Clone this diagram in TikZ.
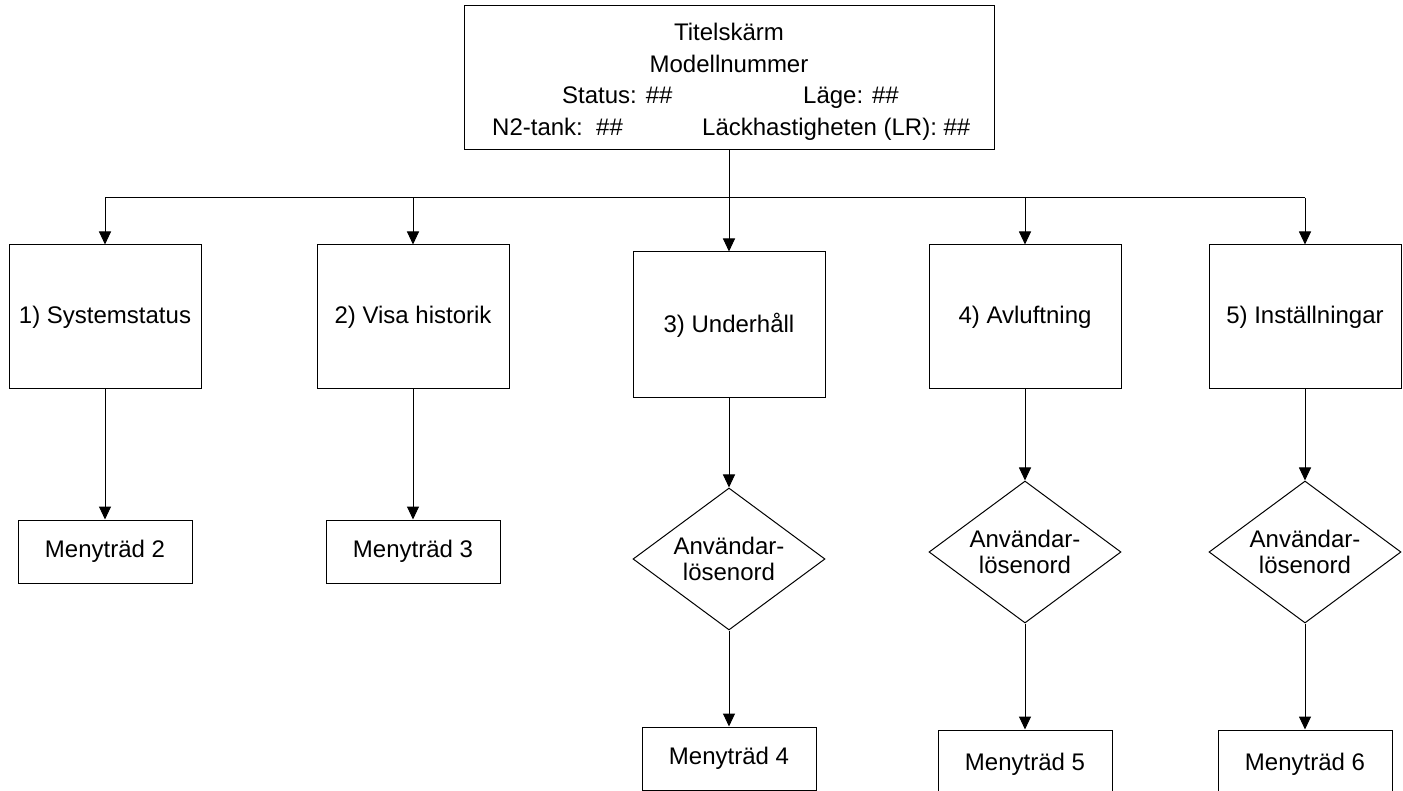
\documentclass[tikz,border=0pt]{standalone}
\usepackage{fontspec}
\setmainfont{Liberation Sans}
\usepackage{tikz}
\usetikzlibrary{shapes.geometric, arrows.meta, positioning}
\tikzstyle{menu} = [rectangle, minimum width=192pt, minimum height=144pt, text centered, draw=black, line width=1pt, inner sep=0pt]
\tikzstyle{tree} = [rectangle, minimum width=174pt, minimum height=63pt, text centered, draw=black, line width=1pt]
\tikzstyle{password} = [diamond, aspect=1.35, minimum width=192pt, minimum height=142pt, inner sep=0pt, align=center, draw=black, line width=1pt]
\tikzstyle{txt} = [inner sep=0pt]
\tikzstyle{arrow} = [line width=1pt, -{Triangle[length=13pt,width=12pt]}]

\begin{document}
\begin{tikzpicture}[x=1pt, y=-1pt, font=\fontsize{24}{26}\selectfont]
  \clip (0,0) rectangle (1403,791);
  \node (title) [rectangle, draw=black, line width=1pt, minimum width=530pt, minimum height=144pt] at (729,78) {};
  \node (tname) [txt, anchor=base] at (729,41) {Titelskärm};
  \node (tmodel) [txt, anchor=base] at (729,73) {Modellnummer};
  \node (tstatus) [txt, anchor=base west] at (562,104) {Status: \#\#};
  \node (tmode) [txt, anchor=base west] at (803,104) {Läge: \#\#};
  \node (ttank) [txt, anchor=base west] at (492,136) {N2-tank:\ \ \#\#};
  \node (trate) [txt, anchor=base west] at (702,136) {Läckhastigheten (LR): \#\#};

  \node (sys) [menu] at (105,317) {1) Systemstatus};
  \node (hist) [menu] at (413,317) {2) Visa historik};
  \node (maint) [menu, minimum height=146pt] at (729,325) {3) Underhåll};
  \node (vent) [menu] at (1025,317) {4) Avluftning};
  \node (sett) [menu] at (1305,317) {5) Inställningar};

  \node (pw3) [password, below=89pt of maint] {Användar-\\lösenord};
  \node (pw4) [password, below=91pt of vent] {Användar-\\lösenord};
  \node (pw5) [password, below=91pt of sett] {Användar-\\lösenord};

  \node (m2) [tree, below=130pt of sys] {Menyträd 2};
  \node (m3) [tree, below=130pt of hist] {Menyträd 3};
  \node (m4) [tree, below=96pt of pw3] {Menyträd 4};
  \node (m5) [tree, minimum height=68pt, below=106pt of pw4] {Menyträd 5};
  \node (m6) [tree, minimum height=68pt, below=106pt of pw5] {Menyträd 6};

  \coordinate (bus) at (729,198);
  \draw[line width=1pt] (bus -| sys) -- (bus -| sett);
  \draw[arrow] (title) -- (maint);
  \foreach \n in {sys,hist,vent,sett}
    \draw[arrow] (bus -| \n) -- (\n);

  \draw[arrow] (sys) -- (m2);
  \draw[arrow] (hist) -- (m3);
  \draw[arrow] (maint) -- (pw3);
  \draw[arrow] (pw3) -- (m4);
  \draw[arrow] (vent) -- (pw4);
  \draw[arrow] (pw4) -- (m5);
  \draw[arrow] (sett) -- (pw5);
  \draw[arrow] (pw5) -- (m6);
\end{tikzpicture}
\end{document}
